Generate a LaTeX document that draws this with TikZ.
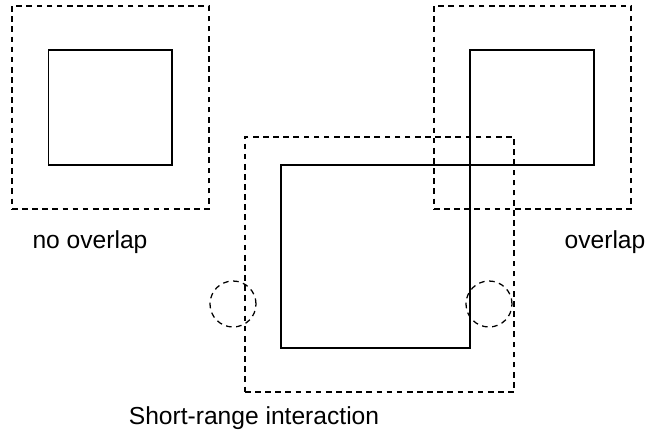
\documentclass[tikz,border=0pt]{standalone}
\usepackage{fontspec}
\setmainfont{Liberation Sans}
\usepackage{tikz}
\usetikzlibrary{shapes,positioning}

\begin{document}
\begin{tikzpicture}
  \tikzstyle{cell} = [draw=black,fill=none,line width=1pt,inner sep=0pt]
  \tikzstyle{halo} = [draw=black,fill=none,line width=0.9pt,dash pattern=on 4pt off 3.2pt,inner sep=0pt]
  \tikzstyle{label} = [draw=none,fill=none,font=\fontsize{17.5}{21}\selectfont]

  \useasboundingbox (0,0) rectangle (16.2,10.875);

  % no overlap
  \node[halo, minimum width=4.925cm, minimum height=5.075cm] (halo_0) at (2.7625,8.1875) {};
  \node[cell, minimum width=3.0875cm, minimum height=2.875cm] (cell_0) at (2.75625,8.1875) {};

  % overlap
  \node[halo, minimum width=4.925cm, minimum height=5.075cm] (halo_1) at (13.3125,8.1875) {};
  \node[cell, minimum width=3.1cm, minimum height=2.875cm] (cell_1) at (13.3,8.1875) {};

  % short-range interaction
  \node[halo, minimum width=6.725cm, minimum height=6.375cm] (halo_2) at (9.4875,4.2625) {};
  \node[cell, minimum width=4.725cm, minimum height=4.575cm] (cell_2) at (9.3875,4.4625) {};

  \node[halo, circle, minimum size=1.15cm] (ghost_0) at (5.825,3.275) {};
  \node[halo, circle, minimum size=1.15cm] (ghost_1) at (12.225,3.275) {};

  \node[label] (title_0) at (2.25,4.825) {no overlap};
  \node[label] (title_1) at (15.125,4.825) {overlap};
  \node[label] (title_2) at (6.35,0.425) {Short-range interaction};
\end{tikzpicture}
\end{document}
